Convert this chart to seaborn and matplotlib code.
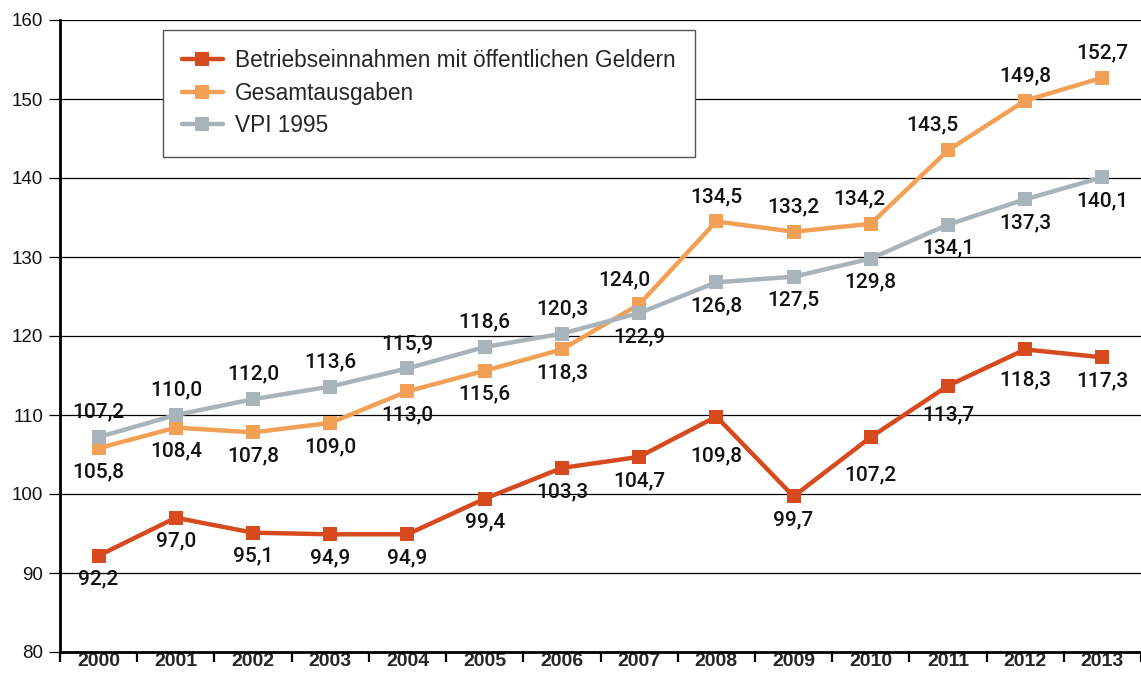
import matplotlib
matplotlib.use("Agg")
import matplotlib.pyplot as plt
import numpy as np
import pandas as pd
import seaborn as sns

years = [str(y) for y in range(2000, 2014)]
betrieb = [92.2, 97.0, 95.1, 94.9, 94.9, 99.4, 103.3, 104.7, 109.8, 99.7, 107.2, 113.7, 118.3, 117.3]
gesamt = [105.8, 108.4, 107.8, 109.0, 113.0, 115.6, 118.3, 124.0, 134.5, 133.2, 134.2, 143.5, 149.8, 152.7]
vpi = [107.2, 110.0, 112.0, 113.6, 115.9, 118.6, 120.3, 122.9, 126.8, 127.5, 129.8, 134.1, 137.3, 140.1]

names = ["Betriebseinnahmen mit öffentlichen Geldern", "Gesamtausgaben", "VPI 1995"]
colors = ["#d64a1e", "#f2a055", "#a8b4ba"]

# label side per point: -1 below, +1 above
sides = {
    names[0]: [-1] * 14,
    names[1]: [-1] * 7 + [1] * 7,
    names[2]: [1] * 7 + [-1] * 7,
}
# a few labels sit off the default spot
shift = {(names[1], 7): (-11, 0), (names[1], 10): (-8, 0), (names[1], 11): (-11, 0),
         (names[0], 8): (0, -11), (names[0], 10): (0, -10), (names[0], 11): (0, -4),
         (names[0], 12): (0, -5)}

sns.set_style("white")
plt.rcParams["font.family"] = ["Liberation Sans", "DejaVu Sans"]

df = pd.DataFrame({
    "x": list(range(14)) * 3,
    "value": betrieb + gesamt + vpi,
    "series": [n for n in names for _ in range(14)],
})

fig = plt.figure(figsize=(11.41, 6.73), dpi=100)
ax = fig.add_axes([60 / 1141, 21 / 673, 1 - 60 / 1141, 632 / 673])

for v in range(90, 161, 10):
    ax.axhline(v, color="black", lw=0.9, zorder=1)

sns.lineplot(data=df, x="x", y="value", hue="series", palette=colors,
             style="series", markers=["s", "s", "s"], dashes=False,
             markersize=10.5, markeredgewidth=0, linewidth=3.2, ax=ax, zorder=3)

for name, vals in zip(names, [betrieb, gesamt, vpi]):
    for i, v in enumerate(vals):
        s = sides[name][i]
        dx, dy = shift.get((name, i), (0, 0))
        ax.annotate(f"{v:.1f}".replace(".", ","), (i, v),
                    xytext=(dx, (18 if s > 0 else -17) + dy),
                    textcoords="offset points", ha="center", va="center",
                    fontsize=15, color="#111111", zorder=4,
                    family=["Roboto", "Liberation Sans"], fontweight="medium")

ax.set_xlim(-0.5, 13.5)
ax.set_ylim(80, 160)
ax.set_yticks(range(80, 161, 10))
ax.tick_params(axis="y", length=8, width=0.9, labelsize=13.5, pad=4, left=True, color="black")
ax.set_xticks(np.arange(-0.5, 14, 1))
ax.set_xticklabels([])
ax.set_xticks(range(14), minor=True)
ax.set_xticklabels(years, minor=True, fontweight="bold", fontsize=14)
ax.tick_params(axis="x", which="major", length=7, width=1.6, bottom=True, direction="out", color="black")
ax.tick_params(axis="x", which="minor", length=0, pad=1)
ax.set_xlabel("")
ax.set_ylabel("")

for side in ["top", "right"]:
    ax.spines[side].set_visible(False)
ax.spines["left"].set_linewidth(2)
ax.spines["bottom"].set_linewidth(2)
ax.spines["left"].set_color("black")
ax.spines["bottom"].set_color("black")

handles, labels = ax.get_legend_handles_labels()
leg = ax.legend(handles, labels, loc="upper left", bbox_to_anchor=(0.095, 0.984),
                borderaxespad=0, fontsize=16.3, frameon=True, fancybox=False,
                edgecolor="#555555", framealpha=1, handlelength=1.8,
                borderpad=0.85, labelspacing=0.42, handletextpad=0.55)
leg.get_frame().set_linewidth(1)
leg.set_zorder(5)
for t in ax.get_yticklabels():
    t.set_color("#111111")

fig.savefig("out.png", dpi=100)
